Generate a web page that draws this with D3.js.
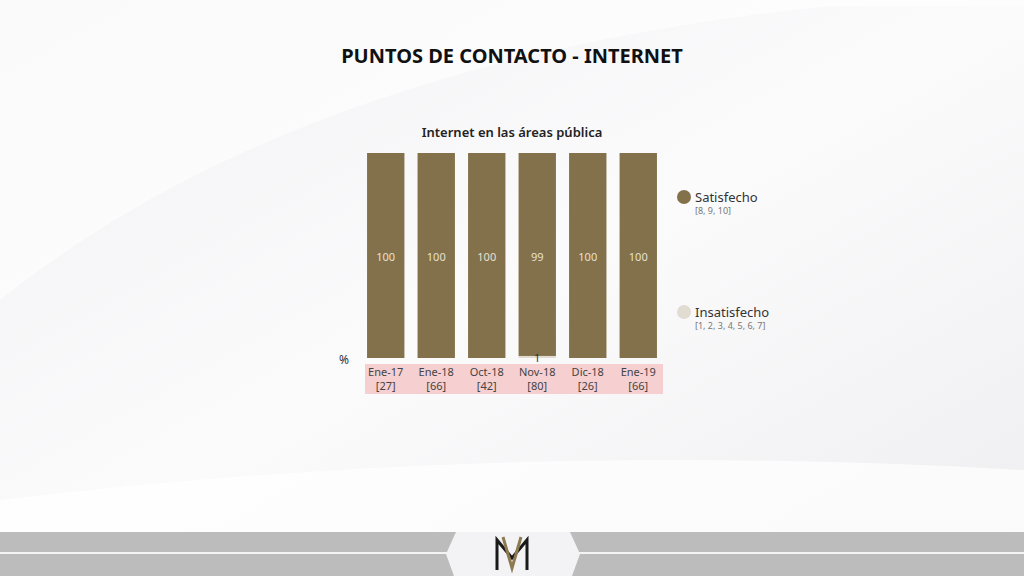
<!DOCTYPE html>
<html><head><meta charset="utf-8">
<script src="https://cdn.jsdelivr.net/npm/d3@7"></script>
<style>body{margin:0;background:#fff;font-family:"Noto Sans",sans-serif;}</style>
</head><body>
<svg id="c" width="1024" height="576"></svg>
<script>
const categories = ["Ene-17", "Ene-18", "Oct-18", "Nov-18", "Dic-18", "Ene-19"];
const sampleSizes = ["[27]", "[66]", "[42]", "[80]", "[26]", "[66]"];
const satisfecho = [100, 100, 100, 99, 100, 100];
const insatisfecho = [0, 0, 0, 1, 0, 0];

const svg = d3.select("#c");
const defs = svg.append("defs");
const g1 = defs.append("linearGradient").attr("id", "bg").attr("x1", 0).attr("y1", 0).attr("x2", 1).attr("y2", 1);
g1.append("stop").attr("offset", 0).attr("stop-color", "#f2f2f4");
g1.append("stop").attr("offset", 0.5).attr("stop-color", "#fbfbfc");
g1.append("stop").attr("offset", 1).attr("stop-color", "#eeeef0");
svg.append("rect").attr("width", 1024).attr("height", 576).attr("fill", "url(#bg)");
// soft background swooshes
svg.append("path").attr("d", "M0,300 Q300,60 830,6 L1024,6 L1024,0 L0,0 Z").attr("fill", "#ffffff").attr("opacity", 0.6);
svg.append("path").attr("d", "M0,500 Q500,440 1024,470 L1024,532 L0,532 Z").attr("fill", "#ffffff").attr("opacity", 0.7);

svg.append("text").attr("x", 512).attr("y", 63).attr("text-anchor", "middle")
  .attr("font-size", 20).attr("font-weight", "bold").attr("fill", "#111").text("PUNTOS DE CONTACTO - INTERNET");
svg.append("text").attr("x", 512).attr("y", 137).attr("text-anchor", "middle")
  .attr("font-size", 13).attr("font-weight", "600").attr("fill", "#222").text("Internet en las áreas pública");

const x = d3.scaleBand().domain(categories).range([362, 662]).paddingInner(0.26).paddingOuter(0.1);
const y = d3.scaleLinear().domain([0, 100]).range([358, 153]);
const brown = "#83714b", light = "#e2dbd2";

const gb = svg.append("g");
categories.forEach((c, i) => {
  gb.append("rect").attr("x", x(c)).attr("width", x.bandwidth())
    .attr("y", y(insatisfecho[i])).attr("height", y(0) - y(insatisfecho[i])).attr("fill", light);
  gb.append("rect").attr("x", x(c)).attr("width", x.bandwidth())
    .attr("y", y(insatisfecho[i] + satisfecho[i])).attr("height", y(insatisfecho[i]) - y(insatisfecho[i] + satisfecho[i])).attr("fill", brown);
  gb.append("text").attr("x", x(c) + x.bandwidth() / 2).attr("y", 261).attr("text-anchor", "middle")
    .attr("font-size", 11).attr("fill", "#e8e0d0").text(satisfecho[i]);
  if (insatisfecho[i] > 0)
    gb.append("text").attr("x", x(c) + x.bandwidth() / 2).attr("y", 362).attr("text-anchor", "middle")
      .attr("font-size", 11).attr("fill", "#333").text(insatisfecho[i]);
});

svg.append("text").attr("x", 339).attr("y", 364).attr("font-size", 12).attr("fill", "#333").text("%");
svg.append("rect").attr("x", 365).attr("y", 364).attr("width", 298).attr("height", 30).attr("fill", "#f6cfd0");
categories.forEach((c, i) => {
  const cx = x(c) + x.bandwidth() / 2;
  svg.append("text").attr("x", cx).attr("y", 376).attr("text-anchor", "middle").attr("font-size", 11).attr("fill", "#444").text(c);
  svg.append("text").attr("x", cx).attr("y", 390).attr("text-anchor", "middle").attr("font-size", 11).attr("fill", "#444").text(sampleSizes[i]);
});

// legend
const leg = [["Satisfecho", "[8, 9, 10]", brown, 197], ["Insatisfecho", "[1, 2, 3, 4, 5, 6, 7]", light, 312]];
leg.forEach(([t, s, col, yy]) => {
  svg.append("circle").attr("cx", 684).attr("cy", yy).attr("r", 7).attr("fill", col);
  svg.append("text").attr("x", 695).attr("y", yy + 5).attr("font-size", 13).attr("fill", "#333").text(t);
  svg.append("text").attr("x", 695).attr("y", yy + 17).attr("font-size", 9).attr("fill", "#777").text(s);
});

// footer
svg.append("rect").attr("x", 0).attr("y", 532).attr("width", 1024).attr("height", 44).attr("fill", "#bcbcbc");
svg.append("rect").attr("x", 0).attr("y", 552).attr("width", 1024).attr("height", 2).attr("fill", "#f4f4f4");
svg.append("path").attr("d", "M456,532 L570,532 L580,554 L572,576 L454,576 L446,554 Z").attr("fill", "#f3f3f5");
svg.append("path").attr("d", "M497,570 L497,540 L512,558 L527,540 L527,570").attr("fill", "none").attr("stroke", "#1a1a1a").attr("stroke-width", 3);
svg.append("path").attr("d", "M503,537 L512,568 L521,537").attr("fill", "none").attr("stroke", "#8c7a50").attr("stroke-width", 3);
</script>
</body></html>
